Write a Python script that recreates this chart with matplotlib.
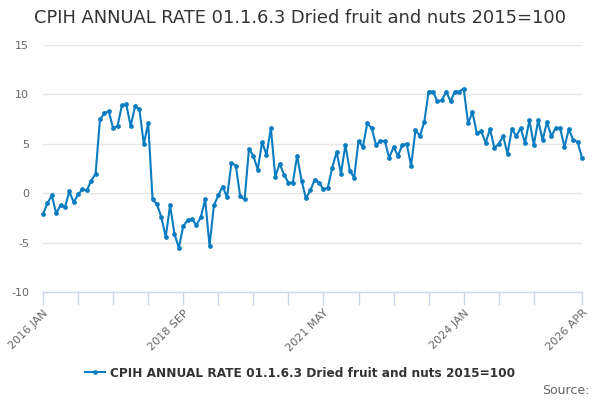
import matplotlib
matplotlib.use("Agg")
import matplotlib.pyplot as plt
from matplotlib.lines import Line2D

title = "CPIH ANNUAL RATE 01.1.6.3 Dried fruit and nuts 2015=100"

# monthly values, 2016 JAN .. 2026 APR
rates = [
    -2.1, -1.0, -0.2, -2.0, -1.2, -1.4, 0.2, -0.9, -0.1, 0.4, 0.3, 1.3,
    2.0, 7.5, 8.1, 8.3, 6.6, 6.8, 8.9, 9.0, 6.8, 8.8, 8.5, 5.0,
    7.1, -0.6, -1.1, -2.4, -4.4, -1.2, -4.1, -5.5, -3.3, -2.7, -2.6, -3.2,
    -2.4, -0.6, -5.3, -1.2, -0.2, 0.7, -0.4, 3.1, 2.8, -0.3, -0.6, 4.5,
    3.8, 2.4, 5.2, 3.9, 6.6, 1.7, 3.0, 1.9, 1.1, 1.1, 3.8, 1.3,
    -0.5, 0.3, 1.4, 1.1, 0.4, 0.6, 2.6, 4.2, 2.0, 4.9, 2.3, 1.6,
    5.3, 4.7, 7.1, 6.6, 4.9, 5.3, 5.3, 3.6, 4.7, 3.8, 4.9, 5.0,
    2.8, 6.4, 5.8, 7.2, 10.3, 10.3, 9.3, 9.4, 10.3, 9.3, 10.3, 10.3,
    10.6, 7.1, 8.2, 6.1, 6.3, 5.1, 6.5, 4.6, 5.0, 5.8, 4.0, 6.5,
    5.8, 6.6, 5.1, 7.4, 4.9, 7.4, 5.4, 7.2, 5.8, 6.6, 6.6, 4.7,
    6.5, 5.4, 5.2, 3.6,
]
tick_pos = [0, 8, 16, 24, 32, 40, 48, 56, 64, 72, 80, 88, 96, 104, 112, 123]
tick_labels = {0: "2016 JAN", 32: "2018 SEP", 64: "2021 MAY", 96: "2024 JAN", 123: "2026 APR"}
yticks = [-10, -5, 0, 5, 10, 15]

blue = "#0a7cc1"
months = list(range(len(rates)))

fig = plt.figure(figsize=(6, 4), dpi=100)
ax = fig.add_axes([0.0717, 0.269, 0.8983, 0.6185])
ax.plot(months, rates, color=blue, lw=1.5, marker="o", ms=2.4, zorder=3, clip_on=False)

ax.set_xlim(0, len(rates) - 1)
ax.set_ylim(-10, 15)
ax.set_yticks(yticks)
ax.set_yticklabels([str(v) for v in yticks])
ax.set_xticks(tick_pos)
ax.set_xticklabels([tick_labels.get(p, "") for p in tick_pos], rotation=45,
                   ha="right", va="top", rotation_mode="anchor")
ax.tick_params(axis="x", length=9, color="#ccd6eb", width=1, labelsize=8,
               labelcolor="#666666", pad=2)
ax.tick_params(axis="y", length=0, labelsize=8, labelcolor="#666666", pad=10)

ax.grid(axis="y", color="#e6e6e6", lw=1)
ax.set_axisbelow(True)
for s in ["top", "right", "left"]:
    ax.spines[s].set_visible(False)
ax.spines["bottom"].set_color("#ccd6eb")
ax.spines["bottom"].set_linewidth(1)

fig.text(0.5, 0.955, title, ha="center", va="center", fontsize=12.9, color="#333333")

handle = Line2D([], [], color=blue, lw=1.5, marker="o", ms=2.4)
fig.legend([handle], [title], loc="center", bbox_to_anchor=(0.5, 0.067), frameon=False,
           prop={"weight": "bold", "size": 8.7}, labelcolor="#333333",
           handlelength=1.6, handletextpad=0.4)
fig.text(0.983, 0.025, "Source:", ha="right", va="center", fontsize=9, color="#666666")

fig.savefig("out.png", dpi=100)
